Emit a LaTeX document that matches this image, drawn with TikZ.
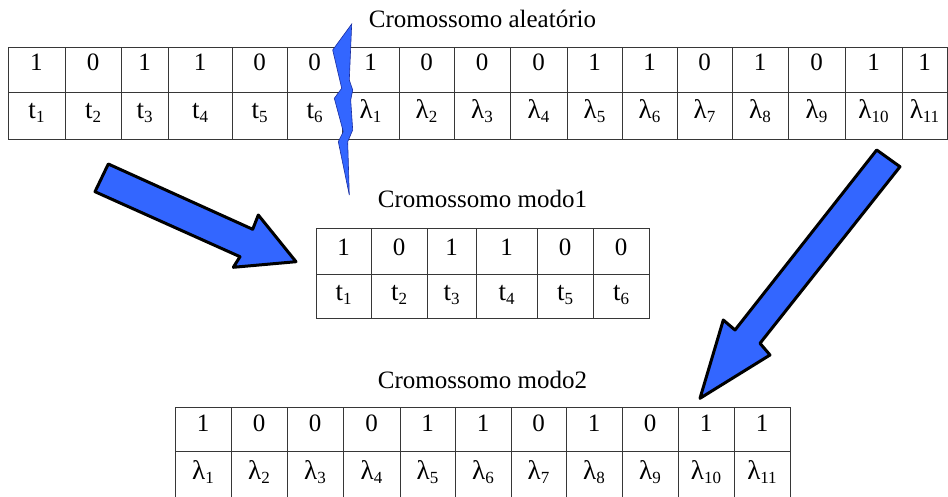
\documentclass[tikz,border=0pt]{standalone}
\usepackage{fontspec}
\setmainfont{Liberation Serif}
\definecolor{mblue}{RGB}{51,102,255}
\definecolor{boltline}{RGB}{25,45,160}
\definecolor{gridc}{RGB}{55,55,55}
\newcommand\tsub[2]{#1\raisebox{-4pt}{\fontsize{17}{17}\selectfont #2}}
\begin{document}
\begin{tikzpicture}[x=1pt,y=-1pt,
  grid/.style={draw=gridc,line width=1pt},
  dig/.style={anchor=base,inner sep=0pt,font=\fontsize{25}{28}\selectfont},
  lbl/.style={anchor=base,inner sep=0pt,font=\fontsize{27}{30}\selectfont},
  title/.style={anchor=base,inner sep=0pt,font=\fontsize{25}{28}\selectfont},
  blockarrow/.style={fill=mblue,draw=black,line width=3pt,line join=round},
  bolt/.style={fill=mblue,draw=boltline,line width=0.6pt,line join=miter}]
\useasboundingbox (0,0) rectangle (948,497);
\fill[white] (0,0) rectangle (948,497);

% ---------- titles ----------
\node[title] (t1) at (482.5,28) {Cromossomo aleatório};
\node[title] (t2) at (482.5,208) {Cromossomo modo1};
\node[title] (t3) at (482.5,388) {Cromossomo modo2};

% ---------- top table ----------
\draw[grid] (8,48) rectangle (947,140);
\draw[grid] (8,93) -- (947,93);
\foreach \x in {65,121,168,232,287,342,399,454,510,567,622,677,732,788,845,902}
  \draw[grid] (\x,48) -- (\x,140);
\foreach \x/\v [count=\i] in {36.5/1,93/0,144.5/1,200/1,259.5/0,314.5/0,370.5/1,426.5/0,482/0,538.5/0,594.5/1,649.5/1,704.5/0,760/1,816.5/0,873.5/1,924.5/1}
  \node[dig] (ra\i) at (\x,71) {\v};
\foreach \x/\s/\n [count=\i] in {36.5/t/1,93/t/2,144.5/t/3,200/t/4,259.5/t/5,314.5/t/6,370.5/λ/1,426.5/λ/2,482/λ/3,538.5/λ/4,594.5/λ/5,649.5/λ/6,704.5/λ/7,760/λ/8,816.5/λ/9,873.5/λ/10,924.5/λ/11}
  \node[lbl] (rb\i) at (\x,119) {\tsub{\s}{\n}};

% ---------- middle table ----------
\draw[grid] (316,229) rectangle (649,318);
\draw[grid] (316,274) -- (649,274);
\foreach \x in {371,427,476,537,593}
  \draw[grid] (\x,229) -- (\x,318);
\foreach \x/\v [count=\i] in {343.5/1,399/0,451.5/1,506.5/1,565/0,621/0}
  \node[dig] (ma\i) at (\x,256) {\v};
\foreach \x/\n [count=\i] in {343.5/1,399/2,451.5/3,506.5/4,565/5,621/6}
  \node[lbl] (mb\i) at (\x,300) {\tsub{t}{\n}};

% ---------- bottom table ----------
\draw[grid] (175,507) -- (175,407) -- (790,407) -- (790,507);
\draw[grid] (175,451) -- (790,451);
\foreach \x in {231,287,343,400,455,511,566,622,678,734}
  \draw[grid] (\x,407) -- (\x,507);
\foreach \x/\v [count=\i] in {203/1,259/0,315/0,371.5/0,427.5/1,483/1,538.5/0,594/1,650/0,706/1,762/1}
  \node[dig] (ba\i) at (\x,431) {\v};
\foreach \x/\n [count=\i] in {203/1,259/2,315/3,371.5/4,427.5/5,483/6,538.5/7,594/8,650/9,706/10,762/11}
  \node[lbl] (bb\i) at (\x,479) {\tsub{λ}{\n}};

% ---------- lightning bolt (cut) ----------
\draw[bolt] (351.7,24) -- (332.7,50) -- (341.7,88.3) -- (334.3,98.3) -- (343.3,131.7)
  -- (338.3,141.7) -- (349.3,195) -- (347.7,141.7) -- (352.7,130) -- (350.7,100)
  -- (352.7,90) -- (349.3,80) -- cycle;

% ---------- block arrows ----------
\draw[blockarrow] (108.3,164) -- (252.7,229.3) -- (258.3,215) -- (296,261.7)
  -- (233.3,267.3) -- (240,256.7) -- (95,191.7) -- cycle;
\draw[blockarrow] (876.7,150) -- (900,166.7) -- (760,343.3) -- (770,355)
  -- (700,398.3) -- (723.3,320) -- (735,330) -- cycle;
\end{tikzpicture}
\end{document}
